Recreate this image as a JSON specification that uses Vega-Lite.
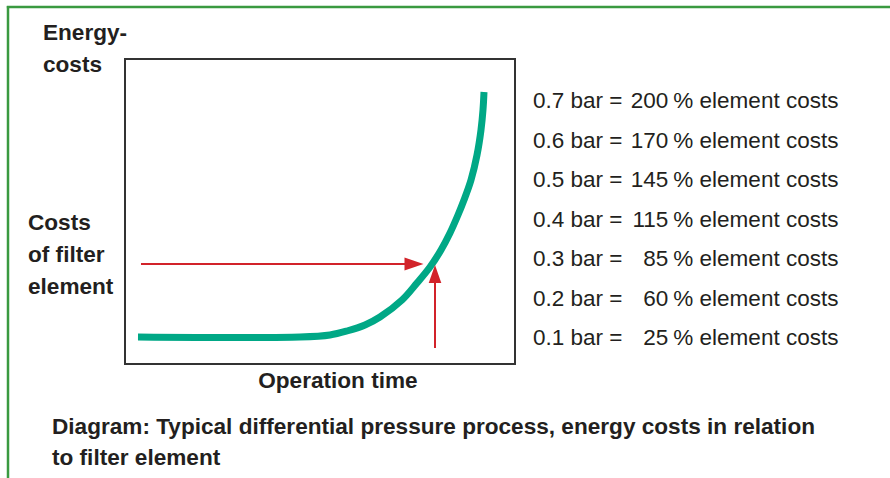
{
  "$schema": "https://vega.github.io/schema/vega-lite/v6.json",
  "width": 390,
  "height": 305,
  "autosize": {"type": "none"},
  "padding": {"left": 125, "top": 59, "right": 375, "bottom": 114},
  "background": "white",
  "config": {
    "view": {"stroke": "#333333", "strokeWidth": 2},
    "axis": {"disable": true},
    "text": {"font": "Liberation Sans", "color": "#231f20"}
  },
  "resolve": {"scale": {"y": "independent"}},
  "layer": [
    {
      "layer": [
        {
          "data": {"values": [
            {"time": 3.33, "cost": 8.85},
            {"time": 44.87, "cost": 8.85},
            {"time": 52.56, "cost": 9.51},
            {"time": 56.92, "cost": 10.82},
            {"time": 61.54, "cost": 12.79},
            {"time": 65.38, "cost": 15.41},
            {"time": 71.03, "cost": 20.98},
            {"time": 74.87, "cost": 26.56},
            {"time": 78.21, "cost": 31.8},
            {"time": 81.03, "cost": 37.38},
            {"time": 83.33, "cost": 42.95},
            {"time": 85.38, "cost": 48.85},
            {"time": 86.92, "cost": 53.77},
            {"time": 88.72, "cost": 60.33},
            {"time": 90.26, "cost": 68.52},
            {"time": 91.28, "cost": 76.72},
            {"time": 91.79, "cost": 83.28},
            {"time": 92.05, "cost": 89.18}
          ]},
          "mark": {"type": "line", "color": "#00a886", "strokeWidth": 7, "interpolate": "catmull-rom", "strokeCap": "butt"},
          "encoding": {
            "x": {"field": "time", "type": "quantitative", "scale": {"domain": [0, 100], "nice": false, "zero": false}, "axis": null},
            "y": {"field": "cost", "type": "quantitative", "scale": {"domain": [0, 100], "nice": false, "zero": false}, "axis": null}
          }
        },
        {
          "data": {"values": [{}]},
          "mark": {"type": "rule", "color": "#d2232a", "strokeWidth": 2},
          "encoding": {
            "x": {"datum": 4.1, "type": "quantitative", "scale": {"domain": [0, 100], "nice": false, "zero": false}},
            "x2": {"datum": 72.6},
            "y": {"datum": 32.79, "type": "quantitative", "scale": {"domain": [0, 100], "nice": false, "zero": false}}
          }
        },
        {
          "data": {"values": [{}]},
          "mark": {"type": "point", "filled": true, "opacity": 1, "color": "#d2232a", "strokeWidth": 0, "size": 361, "shape": "M-1,-0.68L1,0L-1,0.68Z"},
          "encoding": {
            "x": {"datum": 74.1, "type": "quantitative", "scale": {"domain": [0, 100], "nice": false, "zero": false}},
            "y": {"datum": 32.79, "type": "quantitative", "scale": {"domain": [0, 100], "nice": false, "zero": false}}
          }
        },
        {
          "data": {"values": [{}]},
          "mark": {"type": "rule", "color": "#d2232a", "strokeWidth": 2},
          "encoding": {
            "x": {"datum": 79.49, "type": "quantitative", "scale": {"domain": [0, 100], "nice": false, "zero": false}},
            "y": {"datum": 5.25, "type": "quantitative", "scale": {"domain": [0, 100], "nice": false, "zero": false}},
            "y2": {"datum": 27.2}
          }
        },
        {
          "data": {"values": [{}]},
          "mark": {"type": "point", "filled": true, "opacity": 1, "color": "#d2232a", "strokeWidth": 0, "size": 324, "shape": "M-0.7,1L0,-1L0.7,1Z"},
          "encoding": {
            "x": {"datum": 79.49, "type": "quantitative", "scale": {"domain": [0, 100], "nice": false, "zero": false}},
            "y": {"datum": 29.51, "type": "quantitative", "scale": {"domain": [0, 100], "nice": false, "zero": false}}
          }
        },
        {
          "data": {"values": [{}]},
          "mark": {"type": "rule", "color": "#3a9a40", "strokeWidth": 2.5},
          "encoding": {
            "x": {"datum": -30.3, "type": "quantitative", "scale": {"domain": [0, 100], "nice": false, "zero": false}},
            "x2": {"datum": 196.2},
            "y": {"datum": 117.05, "type": "quantitative", "scale": {"domain": [0, 100], "nice": false, "zero": false}}
          }
        },
        {
          "data": {"values": [{}]},
          "mark": {"type": "rule", "color": "#3a9a40", "strokeWidth": 2.5},
          "encoding": {
            "x": {"datum": -30.0, "type": "quantitative", "scale": {"domain": [0, 100], "nice": false, "zero": false}},
            "y": {"datum": 117.4, "type": "quantitative", "scale": {"domain": [0, 100], "nice": false, "zero": false}},
            "y2": {"datum": -37.4}
          }
        },
        {
          "data": {"values": [{}]},
          "mark": {"type": "text", "text": ["Energy-", "costs"], "fontSize": 22.6, "fontWeight": "bold", "align": "left", "baseline": "alphabetic", "lineHeight": 32},
          "encoding": {
            "x": {"datum": -21.03, "type": "quantitative", "scale": {"domain": [0, 100], "nice": false, "zero": false}},
            "y": {"datum": 106.2, "type": "quantitative", "scale": {"domain": [0, 100], "nice": false, "zero": false}}
          }
        },
        {
          "data": {"values": [{}]},
          "mark": {"type": "text", "text": ["Costs", "of filter", "element"], "fontSize": 22.6, "fontWeight": "bold", "align": "left", "baseline": "alphabetic", "lineHeight": 32},
          "encoding": {
            "x": {"datum": -24.87, "type": "quantitative", "scale": {"domain": [0, 100], "nice": false, "zero": false}},
            "y": {"datum": 43.93, "type": "quantitative", "scale": {"domain": [0, 100], "nice": false, "zero": false}}
          }
        },
        {
          "data": {"values": [{}]},
          "mark": {"type": "text", "text": "Operation time", "fontSize": 22.6, "fontWeight": "bold", "align": "center", "baseline": "alphabetic"},
          "encoding": {
            "x": {"datum": 54.6, "type": "quantitative", "scale": {"domain": [0, 100], "nice": false, "zero": false}},
            "y": {"datum": -7.87, "type": "quantitative", "scale": {"domain": [0, 100], "nice": false, "zero": false}}
          }
        },
        {
          "data": {"values": [{}]},
          "mark": {"type": "text", "text": ["Diagram: Typical differential pressure process, energy costs in relation", "to filter element"], "fontSize": 22.6, "fontWeight": "bold", "align": "left", "baseline": "alphabetic", "lineHeight": 31},
          "encoding": {
            "x": {"datum": -18.72, "type": "quantitative", "scale": {"domain": [0, 100], "nice": false, "zero": false}},
            "y": {"datum": -22.95, "type": "quantitative", "scale": {"domain": [0, 100], "nice": false, "zero": false}}
          }
        }
      ]
    },
    {
      "data": {"values": [
        {"pressure": 0.7, "label": "0.7 bar =", "percent": 200},
        {"pressure": 0.6, "label": "0.6 bar =", "percent": 170},
        {"pressure": 0.5, "label": "0.5 bar =", "percent": 145},
        {"pressure": 0.4, "label": "0.4 bar =", "percent": 115},
        {"pressure": 0.3, "label": "0.3 bar =", "percent": 85},
        {"pressure": 0.2, "label": "0.2 bar =", "percent": 60},
        {"pressure": 0.1, "label": "0.1 bar =", "percent": 25}
      ]},
      "encoding": {
        "y": {"field": "pressure", "type": "quantitative", "scale": {"domain": [0.0519, 0.8241], "nice": false, "zero": false}, "axis": null}
      },
      "layer": [
        {
          "mark": {"type": "text", "fontSize": 22.5, "align": "left", "baseline": "alphabetic"},
          "encoding": {
            "x": {"datum": 104.6, "type": "quantitative", "scale": {"domain": [0, 100], "nice": false, "zero": false}},
            "text": {"field": "label"}
          }
        },
        {
          "mark": {"type": "text", "fontSize": 22.5, "align": "right", "baseline": "alphabetic"},
          "encoding": {
            "x": {"datum": 139.3, "type": "quantitative", "scale": {"domain": [0, 100], "nice": false, "zero": false}},
            "text": {"field": "percent", "type": "quantitative"}
          }
        },
        {
          "mark": {"type": "text", "fontSize": 22.5, "align": "left", "baseline": "alphabetic", "text": "% element costs"},
          "encoding": {
            "x": {"datum": 140.6, "type": "quantitative", "scale": {"domain": [0, 100], "nice": false, "zero": false}}
          }
        }
      ]
    }
  ]
}
